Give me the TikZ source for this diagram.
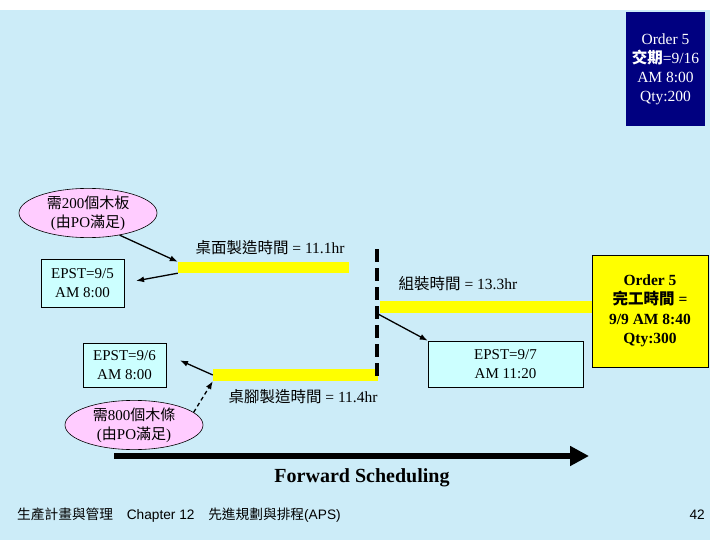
\documentclass[tikz,border=0pt]{standalone}
\usepackage{fontspec}
\setmainfont{Liberation Serif}
\setsansfont{Liberation Sans}
\newfontfamily\cjk{Noto Sans CJK TC}
\usetikzlibrary{arrows.meta,shapes.geometric}
\definecolor{bgblue}{RGB}{204,236,248}
\definecolor{pinkfill}{RGB}{255,204,255}
\definecolor{cyanfill}{RGB}{204,255,255}
\definecolor{navybox}{RGB}{0,0,128}
\definecolor{ybar}{RGB}{255,255,0}
\tikzset{
  epst/.style={draw=black, line width=0.6pt, fill=cyanfill, align=center, inner sep=0pt,
    font=\fontsize{15}{19}\selectfont},
  poell/.style={ellipse, draw=black, line width=0.6pt, fill=pinkfill, align=center, inner sep=0pt,
    font=\fontsize{15}{19}\selectfont},
  bar/.style={fill=ybar, inner sep=0pt, draw=none},
  lbl/.style={font=\fontsize{15.5}{19}\selectfont, inner sep=0pt},
  arr/.style={draw=black, line width=1.3pt, -{Latex[length=8pt,width=6pt]}},
}
\begin{document}
\begin{tikzpicture}[x=1pt,y=-1pt]
\useasboundingbox (0,0) rectangle (720,540);
\fill[white] (0,0) rectangle (720,540);
\fill[bgblue] (0,10) rectangle (710,540);

% order box top right
\node[fill=navybox, text=white, align=center, inner sep=0pt, minimum width=79pt, minimum height=114pt,
  font=\fontsize{15.5}{19}\selectfont] (order) at (665.5,69)
  {Order 5\\{\cjk\bfseries 交期}=9/16\\AM 8:00\\Qty:200};

% bars
\node[bar, minimum width=220pt, minimum height=12pt] (bar3) at (490,307) {};
\node[bar, minimum width=171pt, minimum height=11pt] (bar1) at (263.5,267.5) {};
\node[bar, minimum width=165pt, minimum height=12pt] (bar2) at (295.5,375) {};

% finish box
\node[draw=black, line width=0.6pt, fill=ybar, align=center, inner sep=0pt, minimum width=116pt, minimum height=112pt,
  font=\fontsize{15.5}{19.5}\selectfont\bfseries] (finish) at (650,311)
  {Order 5\\{\cjk\bfseries 完工時間} =\\9/9 AM 8:40\\Qty:300};

% EPST boxes
\node[epst, minimum width=83pt, minimum height=48pt] (box1) at (82.5,283) {EPST=9/5\\AM 8:00};
\node[epst, minimum width=83pt, minimum height=44pt] (box2) at (124.5,365.5) {EPST=9/6\\AM 8:00};
\node[epst, minimum width=155pt, minimum height=46pt] (box3) at (505.5,364) {EPST=9/7\\AM 11:20};

% PO ellipses
\node[poell, minimum width=138pt, minimum height=42pt] (e1) at (88,213) {{\cjk 需}200{\cjk 個木板}\\({\cjk 由}PO{\cjk 滿足})};
\node[poell, minimum width=138pt, minimum height=44pt] (e2) at (134,425) {{\cjk 需}800{\cjk 個木條}\\({\cjk 由}PO{\cjk 滿足})};

% labels
\node[lbl] (l1) at (270,248) {{\cjk 桌面製造時間} = 11.1hr};
\node[lbl] (l2) at (303,397) {{\cjk 桌腳製造時間} = 11.4hr};
\node[lbl] (l3) at (458,284) {{\cjk 組裝時間} = 13.3hr};

% dashed vertical line
\coordinate (dtop) at (377,249);
\coordinate (dbot) at (377,381);
\coordinate (jn) at (378,314);
\draw[line width=3.7pt, dash pattern=on 13pt off 6pt] (dtop) -- (dbot);

% arrows
\draw[arr] (e1.-35) -- (bar1.north west);
\draw[arr, shorten >=12pt] (bar1.south west) -- (box1.east);
\draw[arr, shorten >=15pt] (bar2.west) -- (box2.15);
\draw[arr, dash pattern=on 4pt off 3pt] (e2.12) -- (bar2.south west);
\draw[arr] (jn) -- (box3.north west);

% forward scheduling arrow
\coordinate (fs) at (114,456);
\coordinate (fe) at (589,456);
\draw[line width=6.5pt, -{Triangle[length=19pt,width=19pt]}] (fs) -- (fe);
\node[font=\fontsize{20}{24}\selectfont\bfseries] (fwd) at (362,478) {Forward Scheduling};

% footer
\node[anchor=west, inner sep=0pt, font=\sffamily\fontsize{13.7}{15}\selectfont] (foot) at (17,515)
  {{\cjk 生產計畫與管理}\quad Chapter 12\quad {\cjk 先進規劃與排程}(APS)};
\node[anchor=east, inner sep=0pt, font=\sffamily\fontsize{13.7}{15}\selectfont] (pg) at (705,515) {42};
\end{tikzpicture}
\end{document}
